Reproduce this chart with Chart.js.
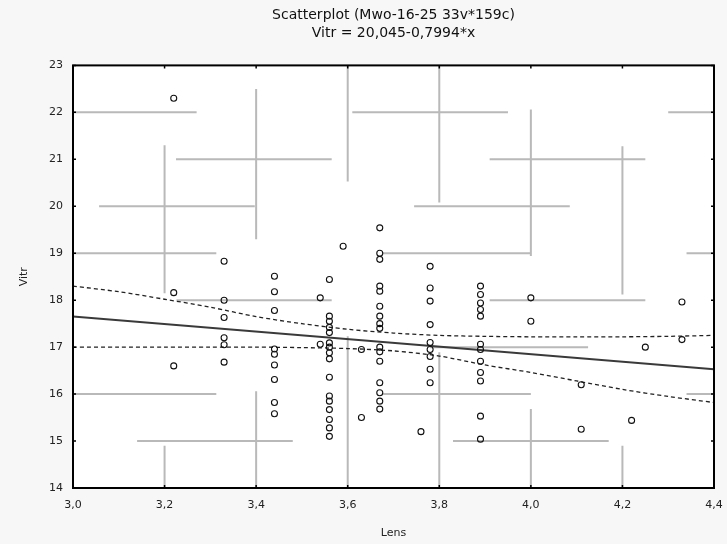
<!DOCTYPE html>
<html>
<head>
<meta charset="utf-8">
<script src="https://cdn.jsdelivr.net/npm/chart.js@4/dist/chart.umd.min.js"></script>
<style>
  html, body { margin: 0; padding: 0; background: #f7f7f7; }
  canvas { display: block; }
</style>
</head>
<body>
<canvas id="scatter" width="727" height="544"></canvas>
<script>
var lensValues = [
  3.22, 3.22, 3.22,
  3.33, 3.33, 3.33, 3.33, 3.33, 3.33,
  3.44, 3.44, 3.44, 3.44, 3.44, 3.44, 3.44, 3.44, 3.44,
  3.54, 3.54,
  3.56, 3.56, 3.56, 3.56, 3.56, 3.56, 3.56, 3.56, 3.56, 3.56, 3.56, 3.56, 3.56, 3.56, 3.56, 3.56,
  3.59, 3.63, 3.63,
  3.67, 3.67, 3.67, 3.67, 3.67, 3.67, 3.67, 3.67, 3.67, 3.67, 3.67, 3.67, 3.67, 3.67, 3.67, 3.67,
  3.76,
  3.78, 3.78, 3.78, 3.78, 3.78, 3.78, 3.78, 3.78, 3.78,
  3.89, 3.89, 3.89, 3.89, 3.89, 3.89, 3.89, 3.89, 3.89, 3.89, 3.89, 3.89,
  4.0, 4.0, 4.11, 4.11, 4.22, 4.25, 4.33, 4.33
];
var vitrValues = [
  22.3, 18.16, 16.6,
  18.83, 18.0, 17.63, 17.2, 17.05, 16.68,
  18.51, 18.18, 17.78, 16.96, 16.85, 16.62, 16.31, 15.82, 15.58,
  18.05, 17.06,
  18.44, 17.66, 17.55, 17.42, 17.31, 17.09, 17.0, 16.88, 16.75, 16.36, 15.96, 15.85, 15.67, 15.46, 15.28, 15.1,
  19.15, 16.95, 15.5,
  19.54, 19.0, 18.87, 18.3, 18.19, 17.87, 17.66, 17.5, 17.4, 17.0, 16.9, 16.7, 16.24, 16.03, 15.85, 15.68,
  15.2,
  18.72, 18.26, 17.98, 17.48, 17.1, 16.95, 16.8, 16.53, 16.24,
  18.3, 18.12, 17.94, 17.8, 17.66, 17.06, 16.95, 16.7, 16.46, 16.28, 15.53, 15.04,
  18.05, 17.55, 16.2, 15.25, 15.44, 17.0, 17.96, 17.16
];

// regression line Vitr = 20,045-0,7994*x, end points
var fitLens = [3.0, 4.4];
var fitVitr = [17.65, 16.53];

// confidence band (dashed)
var bandLens  = [3.0, 3.1, 3.2, 3.3, 3.4, 3.5, 3.6, 3.7, 3.8, 3.9, 4.0, 4.1, 4.2, 4.3, 4.4];
var bandUpper = [18.3, 18.18, 18.02, 17.85, 17.65, 17.5, 17.38, 17.3, 17.25, 17.23, 17.22, 17.22, 17.22, 17.23, 17.25];
var bandLower = [17.0, 17.0, 17.0, 17.0, 17.0, 16.99, 16.97, 16.92, 16.81, 16.62, 16.46, 16.28, 16.1, 15.95, 15.82];

// broken grey grid pieces: [y, fromLens, toLens] and [lens, fromVitr, toVitr]
var gridPiecesH = [
  [22, 3.0, 3.27], [22, 3.61, 3.95], [22, 4.30, 4.4],
  [21, 3.225, 3.565], [21, 3.91, 4.25],
  [20, 3.057, 3.397], [20, 3.745, 4.085],
  [19, 3.0, 3.313], [19, 3.676, 4.0], [19, 4.34, 4.4],
  [18, 3.226, 3.565], [18, 3.91, 4.25],
  [17, 3.78, 4.125],
  [16, 3.0, 3.313], [16, 3.676, 4.0], [16, 4.34, 4.4],
  [15, 3.14, 3.48], [15, 3.83, 4.17]
];
var gridPiecesV = [
  [3.2, 18.15, 21.3], [3.2, 14, 14.9],
  [3.4, 19.3, 22.5], [3.4, 14, 16.06],
  [3.6, 20.53, 23], [3.6, 14, 17.23],
  [3.8, 20.08, 23], [3.8, 14, 16.89],
  [4.0, 18.94, 22.06], [4.0, 14, 15.68],
  [4.2, 18.12, 21.28], [4.2, 14, 14.9]
];

var titleLines = ['Scatterplot (Mwo-16-25 33v*159c)', 'Vitr = 20,045-0,7994*x'];

function pairs(xs, ys) {
  return xs.map(function(x, i) { return { x: x, y: ys[i] }; });
}

function commaNum(v, digits) {
  return Number(v).toFixed(digits).replace('.', ',');
}

// white plot area, grey grid pieces, black frame with inward ticks
var plotFrame = {
  id: 'plotFrame',
  beforeDatasetsDraw: function(chart) {
    var a = chart.chartArea, ctx = chart.ctx;
    var xs = chart.scales.x, ys = chart.scales.y;
    ctx.save();
    ctx.fillStyle = '#ffffff';
    ctx.fillRect(a.left, a.top, a.right - a.left, a.bottom - a.top);
    ctx.strokeStyle = '#b9b9b9';
    ctx.lineWidth = 2;
    ctx.beginPath();
    gridPiecesH.forEach(function(p) {
      var y = ys.getPixelForValue(p[0]);
      ctx.moveTo(xs.getPixelForValue(p[1]), y);
      ctx.lineTo(xs.getPixelForValue(p[2]), y);
    });
    gridPiecesV.forEach(function(p) {
      var x = xs.getPixelForValue(p[0]);
      ctx.moveTo(x, ys.getPixelForValue(p[1]));
      ctx.lineTo(x, ys.getPixelForValue(p[2]));
    });
    ctx.stroke();
    ctx.restore();
  },
  afterDatasetsDraw: function(chart) {
    var a = chart.chartArea, ctx = chart.ctx;
    ctx.save();
    ctx.strokeStyle = '#000000';
    ctx.lineWidth = 2;
    ctx.strokeRect(a.left, a.top, a.right - a.left, a.bottom - a.top);
    ctx.lineWidth = 1.5;
    ctx.beginPath();
    chart.scales.x.ticks.forEach(function(t) {
      var x = chart.scales.x.getPixelForValue(t.value);
      ctx.moveTo(x, a.bottom); ctx.lineTo(x, a.bottom - 3);
      ctx.moveTo(x, a.top); ctx.lineTo(x, a.top + 3);
    });
    chart.scales.y.ticks.forEach(function(t) {
      var y = chart.scales.y.getPixelForValue(t.value);
      ctx.moveTo(a.left, y); ctx.lineTo(a.left + 3, y);
      ctx.moveTo(a.right, y); ctx.lineTo(a.right - 3, y);
    });
    ctx.stroke();
    ctx.restore();
  }
};

var tickFont = { family: 'DejaVu Sans', size: 11 };

new Chart(document.getElementById('scatter').getContext('2d'), {
  type: 'scatter',
  data: {
    datasets: [
      {
        label: 'cases',
        data: pairs(lensValues, vitrValues),
        pointStyle: 'circle',
        pointRadius: 3,
        borderColor: '#111111',
        borderWidth: 1.1,
        backgroundColor: 'rgba(0,0,0,0)'
      },
      {
        label: 'fit',
        data: pairs(fitLens, fitVitr),
        showLine: true,
        pointRadius: 0,
        borderColor: '#3a3a3a',
        borderWidth: 2
      },
      {
        label: 'upper',
        data: pairs(bandLens, bandUpper),
        showLine: true,
        pointRadius: 0,
        borderColor: '#222222',
        borderWidth: 1.3,
        borderDash: [4, 3],
        tension: 0.3
      },
      {
        label: 'lower',
        data: pairs(bandLens, bandLower),
        showLine: true,
        pointRadius: 0,
        borderColor: '#222222',
        borderWidth: 1.3,
        borderDash: [4, 3],
        tension: 0.3
      }
    ]
  },
  options: {
    responsive: false,
    devicePixelRatio: 1,
    animation: false,
    layout: { padding: { left: 0, right: 13, top: 0, bottom: 0 } },
    plugins: {
      legend: { display: false },
      tooltip: { enabled: false },
      title: {
        display: true,
        fullSize: false,
        text: titleLines,
        color: '#111111',
        font: { family: 'DejaVu Sans', size: 14, weight: 'normal', lineHeight: 1.3 },
        padding: { top: 6, bottom: 23 }
      }
    },
    scales: {
      x: {
        type: 'linear',
        min: 3.0,
        max: 4.4,
        grid: { display: false, drawTicks: false },
        border: { display: false },
        ticks: {
          stepSize: 0.2,
          color: '#222222',
          font: tickFont,
          padding: 11,
          maxRotation: 0,
          callback: function(v) { return commaNum(v, 1); }
        },
        title: { display: true, text: 'Lens', color: '#222222', font: tickFont, padding: { top: 0, bottom: 4 } },
        afterFit: function(s) {
          s.height = 56;
          // keep the last tick label from squeezing the plot
          s.paddingLeft = 0;
          s.paddingRight = 0;
        }
      },
      y: {
        type: 'linear',
        min: 14,
        max: 23,
        grid: { display: false, drawTicks: false },
        border: { display: false },
        ticks: {
          stepSize: 1,
          color: '#222222',
          font: tickFont,
          padding: 10,
          callback: function(v) { return String(v); }
        },
        title: { display: true, text: 'Vitr', color: '#222222', font: tickFont, padding: { top: 18, bottom: 0 } },
        afterFit: function(s) {
          s.width = 73;
          s.paddingTop = 0;
          s.paddingBottom = 0;
        }
      }
    }
  },
  plugins: [plotFrame]
});
</script>
</body>
</html>
